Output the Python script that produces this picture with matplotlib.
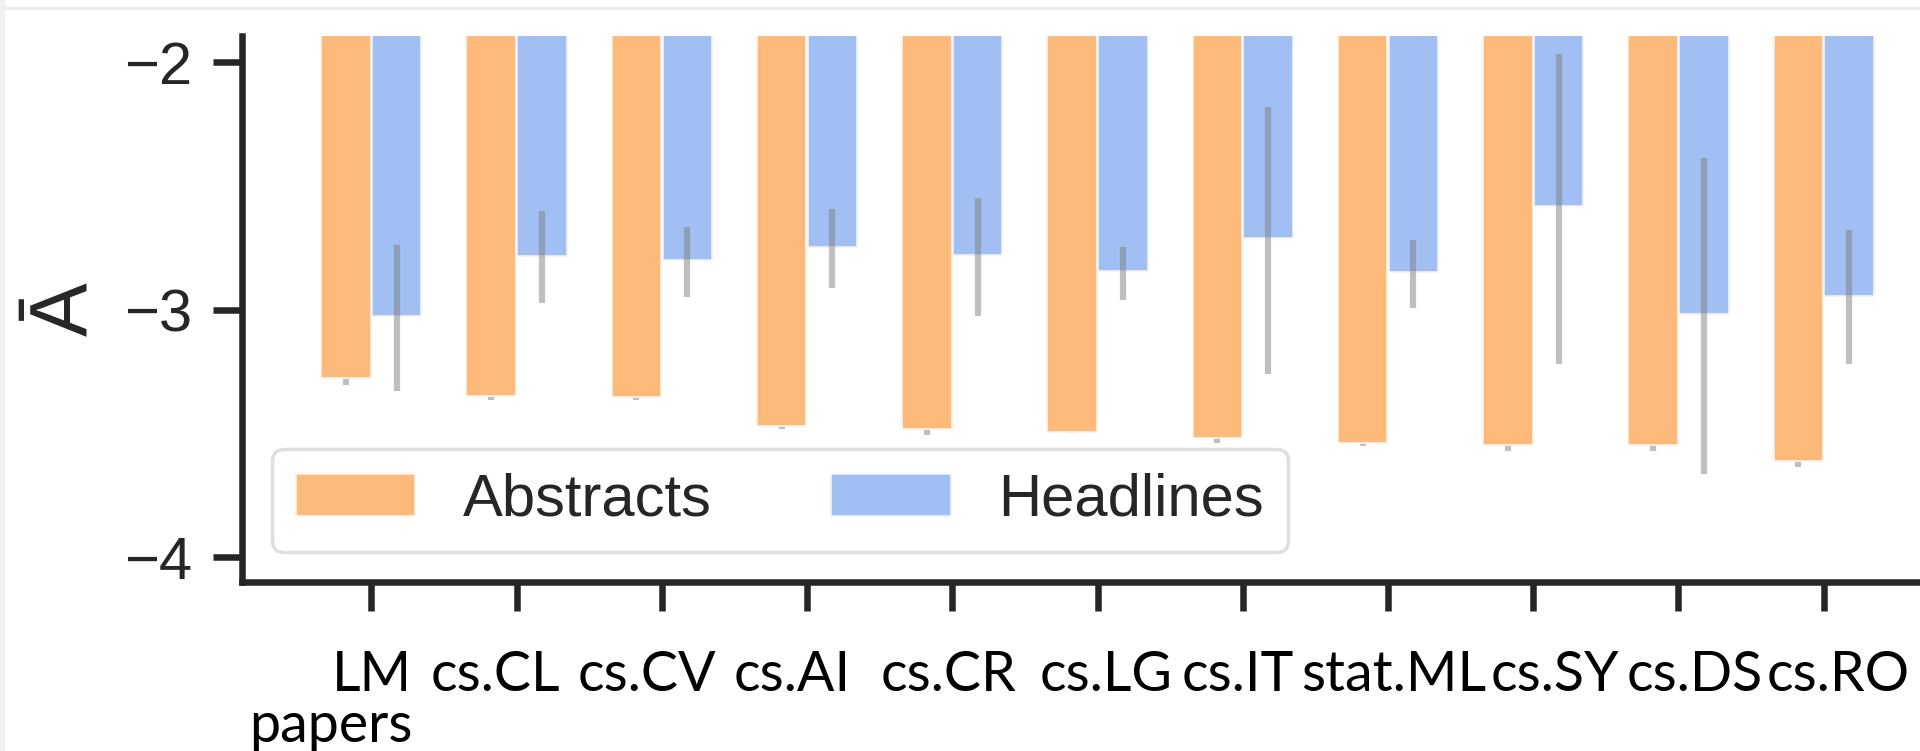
import numpy as np
import matplotlib
matplotlib.use('Agg')
import matplotlib.pyplot as plt
import matplotlib.patches as patches
from matplotlib.transforms import ScaledTranslation

categories = ['LM\npapers', 'cs.CL', 'cs.CV', 'cs.AI', 'cs.CR', 'cs.LG',
              'cs.IT', 'stat.ML', 'cs.SY', 'cs.DS', 'cs.RO']

abstracts = [-3.277, -3.348, -3.352, -3.470, -3.483, -3.493,
             -3.518, -3.537, -3.547, -3.547, -3.610]
abstracts_lo = [-3.306, -3.364, -3.366, -3.483, -3.508, -3.500,
                -3.537, -3.551, -3.570, -3.572, -3.634]

headlines = [-3.026, -2.781, -2.799, -2.747, -2.777, -2.845,
             -2.712, -2.849, -2.582, -3.018, -2.945]
headlines_lo = [-3.330, -2.974, -2.949, -2.911, -3.026, -2.961,
                -3.261, -2.991, -3.219, -3.662, -3.219]
headlines_hi = [-2.740, -2.602, -2.666, -2.592, -2.548, -2.746,
                -2.181, -2.717, -1.965, -2.386, -2.679]

yticks = [-4, -3, -2]

orange = '#FEBA7B'
blue = '#A1BFF3'
dark = '#262626'

x = np.arange(len(categories))
abstracts = np.array(abstracts)
abstracts_lo = np.array(abstracts_lo)
abstracts_hi = 2 * abstracts - abstracts_lo

fig = plt.figure(figsize=(19.2, 7.51), dpi=100)
ax = fig.add_axes([0.126, 0.2254, 0.874, 0.7266])

w = 0.34
off = 0.175
ax.bar(x - off, abstracts, w, color=orange, edgecolor='#fff3e6', linewidth=1.2,
       label='Abstracts', zorder=2)
ax.bar(x + off, headlines, w, color=blue, edgecolor='#eef3fd', linewidth=1.2,
       label='Headlines', zorder=2)

# abstract CIs are tiny, only the part below the bar shows
ax.vlines(x - off, abstracts_lo, abstracts_hi, color='gray', alpha=0.5,
          linewidth=4.5, zorder=1)
ax.vlines(x + off, headlines_lo, headlines_hi, color='gray', alpha=0.5,
          linewidth=4.5, zorder=3)

ax.set_xlim(-0.891, 10.663)
ax.set_ylim(-4.099, -1.894)

ax.spines['top'].set_visible(False)
ax.spines['right'].set_visible(False)
for side in ['left', 'bottom']:
    ax.spines[side].set_linewidth(4.7)
    ax.spines[side].set_color(dark)

ax.set_yticks(yticks)
ax.set_yticklabels([f'\u2212{abs(t)}' for t in yticks],
                   fontsize=43, family='Liberation Sans', color=dark)
ax.tick_params(axis='y', length=21, width=4.7, pad=15, color=dark)

ax.set_xticks(x)
ax.set_xticklabels(categories, fontsize=40, family='Lato', color='black',
                   linespacing=1.0, multialignment='right')
ax.tick_params(axis='x', length=21, width=4.7, pad=28, color=dark)

# labels in the original don't sit exactly under their ticks (px shifts)
label_shift = [-41, -21, -15, -15, -4, 9, -5, 6, 22, 16, 14]
for lab, dx in zip(ax.get_xticklabels(), label_shift):
    lab.set_transform(lab.get_transform() + ScaledTranslation(dx / 100, 0, fig.dpi_scale_trans))

ax.set_ylabel('\u0100', fontsize=58, family='Liberation Sans', color=dark,
              labelpad=15)

leg = ax.legend(loc='lower left', ncol=2, fontsize=43, frameon=True,
                prop={'family': 'Liberation Sans', 'size': 43})
leg.get_frame().set_edgecolor('#d6d6d6')
leg.get_frame().set_linewidth(2.5)
for t in leg.get_texts():
    t.set_color(dark)

# faint page border of the screenshot
fig.patches.append(patches.Rectangle((0, 0), 4 / 1920, 1, transform=fig.transFigure,
                                     color='#f0f0f0', zorder=0))
fig.patches.append(patches.Rectangle((0, 1 - 9 / 751), 1, 1.5 / 751,
                                     transform=fig.transFigure,
                                     color='#eeeeee', zorder=0))

fig.savefig('out.png', dpi=100)
